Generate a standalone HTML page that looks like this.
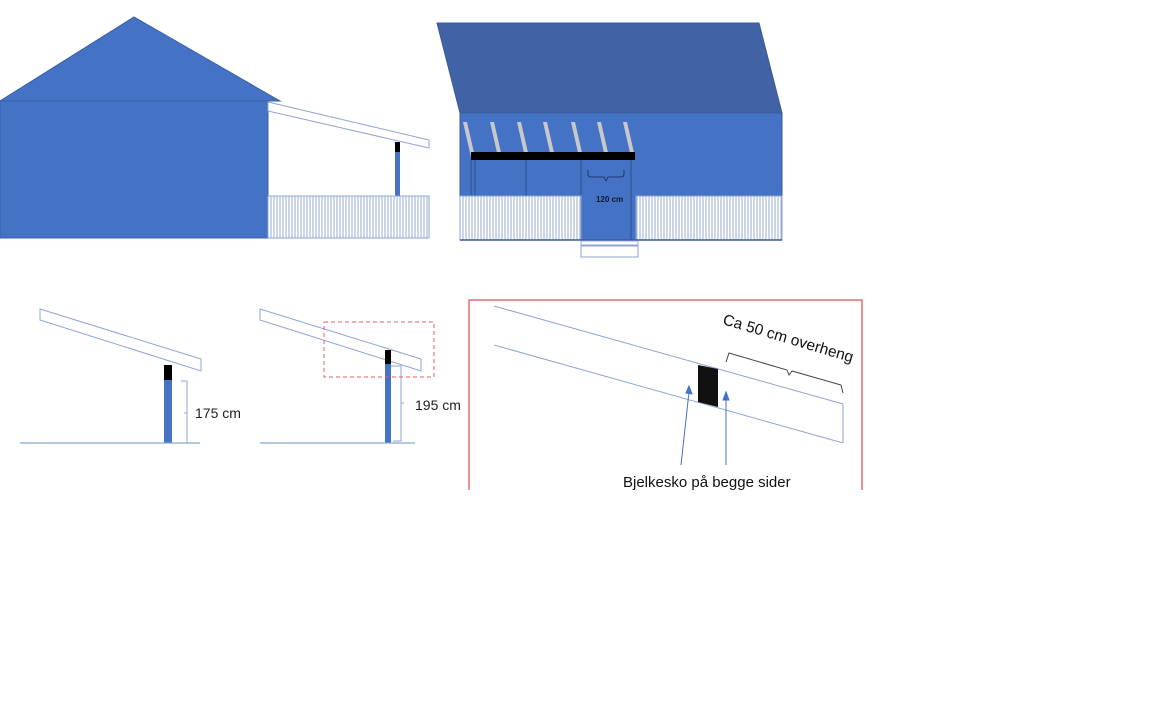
<!DOCTYPE html>
<html><head><meta charset="utf-8"><style>html,body{margin:0;padding:0;background:#fff}svg{display:block}</style></head>
<body>
<svg width="1152" height="720" viewBox="0 0 1152 720" xmlns="http://www.w3.org/2000/svg" font-family="Liberation Sans, sans-serif">
<defs>
<pattern id="fence" width="3" height="10" patternUnits="userSpaceOnUse">
<rect width="3" height="10" fill="#fff"/><line x1="1" y1="0" x2="1" y2="10" stroke="#8ea4d2" stroke-width="0.9"/>
</pattern>
</defs>
<!-- Left house -->
<polygon points="0,101 134,17 280,101" fill="#4472c4" stroke="#3c62a8" stroke-width="1"/>
<rect x="0" y="101" width="268" height="137" fill="#4472c4" stroke="#3c62a8" stroke-width="1"/>
<polygon points="268,102 429,140 429,148 268,111" fill="#fff" stroke="#8ea4d2" stroke-width="1"/>
<rect x="395" y="142" width="5" height="10" fill="#000"/>
<rect x="395" y="152" width="5" height="44" fill="#4472c4"/>
<rect x="268" y="196" width="161" height="42" fill="url(#fence)" stroke="#8ea4d2" stroke-width="1"/>
<!-- Right building -->
<polygon points="437,23 759,23 782,113 460,113" fill="#4162a4" stroke="#3a5a98" stroke-width="1"/>
<rect x="460" y="113" width="322" height="127" fill="#4472c4" stroke="#3a5a98" stroke-width="1"/>
<g fill="#c8c8cc">
<polygon points="463,122 467,122 475,157 471,157"/>
<polygon points="490,122 494,122 502,157 498,157"/>
<polygon points="517,122 521,122 529,157 525,157"/>
<polygon points="543,122 547,122 555,157 551,157"/>
<polygon points="571,122 575,122 583,157 579,157"/>
<polygon points="597,122 601,122 609,157 605,157"/>
<polygon points="623,122 627,122 635,157 631,157"/>
</g>
<rect x="471" y="152" width="164" height="8" fill="#000"/>
<g stroke="#2f4f8c" stroke-width="1">
<line x1="471" y1="160" x2="471" y2="196"/><line x1="475" y1="160" x2="475" y2="196"/>
<line x1="526" y1="160" x2="526" y2="196"/>
<line x1="581" y1="160" x2="581" y2="240"/><line x1="631" y1="160" x2="631" y2="240"/>
</g>
<rect x="460" y="196" width="121" height="44" fill="url(#fence)" stroke="#8ea4d2" stroke-width="1"/>
<rect x="636" y="196" width="146" height="44" fill="url(#fence)" stroke="#8ea4d2" stroke-width="1"/>
<line x1="460" y1="240" x2="782" y2="240" stroke="#3a5a98" stroke-width="1.5"/>
<path d="M588,170 v4 q0,3 3,3 h13 l2,4 l2,-4 h13 q3,0 3,-3 v-4" fill="none" stroke="#1a2a50" stroke-width="0.8"/>
<text x="596" y="202" font-size="8" font-weight="bold" fill="#101830">120 cm</text>
<rect x="581" y="241" width="57" height="4" fill="#fff" stroke="#8ea4d2"/>
<rect x="581" y="246" width="57" height="11" fill="#fff" stroke="#8ea4d2"/>
<!-- Bottom left -->
<polygon points="40,309 201,359 201,371 40,320" fill="#fff" stroke="#8ea4d2" stroke-width="1"/>
<rect x="164" y="365" width="8" height="15" fill="#000"/>
<rect x="164" y="380" width="8" height="63" fill="#4472c4"/>
<line x1="20" y1="443" x2="200" y2="443" stroke="#8ea4d2" stroke-width="1.2"/>
<path d="M181,381 h6 v62 h-6 M187,413 h-3" fill="none" stroke="#8ea4d2"/>
<text x="195" y="418" font-size="14" fill="#222">175 cm</text>
<!-- Bottom middle -->
<polygon points="260,309 421,359 421,371 260,320" fill="#fff" stroke="#8ea4d2" stroke-width="1"/>
<rect x="385" y="350" width="6" height="14" fill="#000"/>
<rect x="385" y="364" width="6" height="79" fill="#4472c4"/>
<line x1="260" y1="443" x2="415" y2="443" stroke="#8ea4d2" stroke-width="1.2"/>
<path d="M391,366 h10 v75 h-8 M401,403 h3" fill="none" stroke="#8ea4d2"/>
<text x="415" y="410" font-size="14" fill="#222">195 cm</text>
<rect x="324" y="322" width="110" height="55" fill="none" stroke="#e06060" stroke-width="1" stroke-dasharray="4,3"/>
<!-- Detail box -->
<path d="M469,490 V300 H862 V490" fill="none" stroke="#e07070" stroke-width="1.5"/>
<line x1="494" y1="306" x2="843" y2="404" stroke="#8ea4d2" stroke-width="1"/>
<line x1="494" y1="345" x2="843" y2="443" stroke="#8ea4d2" stroke-width="1"/>
<line x1="843" y1="404" x2="843" y2="443" stroke="#8ea4d2" stroke-width="1"/>
<polygon points="698,365 718,369 718,407 698,402" fill="#111"/>
<path d="M726,362 l3,-9 l58,17 l2,5 l3,-4 l49,14 l2,8" fill="none" stroke="#444" stroke-width="1"/>
<text transform="translate(722,324) rotate(16.5)" font-size="15.5" fill="#111">Ca 50 cm overheng</text>
<g stroke="#4472c4" stroke-width="1" fill="#4472c4">
<line x1="681" y1="465" x2="689" y2="392"/><polygon points="689,386 692,394 686,393"/>
<line x1="726" y1="465" x2="726" y2="398"/><polygon points="726,392 729,400 723,400"/>
</g>
<text x="623" y="487" font-size="15" fill="#111">Bjelkesko på begge sider</text>
</svg>
</body></html>
